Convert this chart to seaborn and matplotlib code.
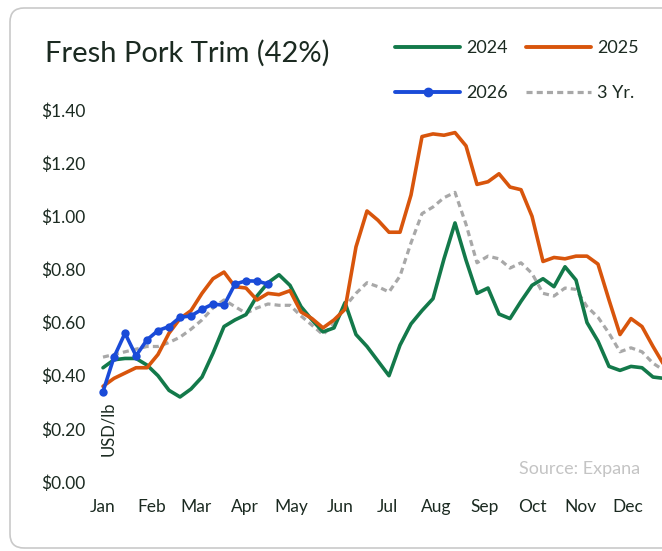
import numpy as np
import pandas as pd
import matplotlib
matplotlib.use("Agg")
import matplotlib.pyplot as plt
from matplotlib.patches import FancyBboxPatch
from matplotlib.lines import Line2D
import seaborn as sns

# %% data (USD/lb, weekly)
weeks = np.arange(52)
month_labels = ["Jan", "Feb", "Mar", "Apr", "May", "Jun",
                "Jul", "Aug", "Sep", "Oct", "Nov", "Dec"]
month_start_day = [0, 31, 59, 90, 120, 151, 181, 212, 243, 273, 304, 334]

y2024 = [0.43, 0.46, 0.465, 0.465, 0.44, 0.40, 0.345, 0.32, 0.35, 0.395,
         0.485, 0.585, 0.61, 0.63, 0.70, 0.75, 0.78, 0.74, 0.66, 0.61,
         0.565, 0.58, 0.675, 0.555, 0.51, 0.455, 0.40, 0.515, 0.595, 0.645,
         0.69, 0.84, 0.975, 0.835, 0.71, 0.73, 0.632, 0.615, 0.68, 0.74,
         0.765, 0.735, 0.81, 0.76, 0.60, 0.53, 0.435, 0.42, 0.435, 0.43,
         0.395, 0.39]
y2025 = [0.36, 0.39, 0.41, 0.43, 0.43, 0.48, 0.56, 0.615, 0.645, 0.71,
         0.765, 0.79, 0.735, 0.73, 0.685, 0.71, 0.705, 0.72, 0.64, 0.615,
         0.58, 0.61, 0.65, 0.885, 1.02, 0.985, 0.94, 0.94, 1.08, 1.30,
         1.31, 1.305, 1.315, 1.265, 1.12, 1.13, 1.16, 1.11, 1.10, 1.00,
         0.83, 0.845, 0.84, 0.85, 0.85, 0.82, 0.685, 0.555, 0.615, 0.585,
         0.51, 0.44]
y2026 = [0.34, 0.47, 0.56, 0.475, 0.535, 0.57, 0.585, 0.62, 0.625, 0.65,
         0.67, 0.665, 0.745, 0.757, 0.756, 0.745]
y3yr = [0.47, 0.48, 0.49, 0.50, 0.51, 0.51, 0.525, 0.545, 0.575, 0.61,
        0.655, 0.685, 0.66, 0.635, 0.655, 0.67, 0.665, 0.665, 0.625, 0.59,
        0.555, 0.595, 0.66, 0.71, 0.75, 0.735, 0.715, 0.775, 0.90, 1.01,
        1.035, 1.07, 1.09, 0.97, 0.825, 0.85, 0.84, 0.805, 0.825, 0.785,
        0.71, 0.70, 0.73, 0.725, 0.66, 0.62, 0.56, 0.49, 0.505, 0.49,
        0.447, 0.42]

GREEN = "#13794a"
ORANGE = "#d8550c"
BLUE = "#1a4bd8"
GRAY = "#a8a8a8"
INK = "#1b2a21"

# %% figure
sns.set_theme(style="white")
plt.rcParams["font.family"] = ["Lato", "DejaVu Sans"]

W, H = 662, 551
fig = plt.figure(figsize=(W / 100, H / 100), dpi=100)

# axes placed in pixel terms: week w sits at x = 103 + 11*w, $0 at y=482, $1.40 at y=110
x_left, x_right = 99.0, 662.0
ax = fig.add_axes([x_left / W, (H - 482) / H, (x_right - x_left) / W, (482 - 110) / H])
ax.set_xlim((x_left - 103) / 11, (x_right - 103) / 11)
ax.set_ylim(0, 1.4)

sns.lineplot(x=weeks, y=y3yr, color=GRAY, lw=2.3, linestyle=(0, (1.9, 1.3)), ax=ax)
sns.lineplot(x=weeks, y=y2024, color=GREEN, lw=2.6, ax=ax)
sns.lineplot(x=weeks, y=y2025, color=ORANGE, lw=2.6, ax=ax)
sns.lineplot(x=weeks[:len(y2026)], y=y2026, color=BLUE, lw=2.6, marker="o",
             markersize=6, markeredgewidth=0, ax=ax, clip_on=False)

sns.despine(ax=ax, left=True, bottom=True)
ax.set_yticks(np.arange(0, 1.41, 0.2))
ax.set_yticklabels([f"${v:.2f}" for v in np.arange(0, 1.41, 0.2)])
ax.set_xticks(np.array(month_start_day) / 7)
ax.set_xticklabels(month_labels)
ax.tick_params(axis="both", length=0, labelsize=12.5, labelcolor=INK)
ax.tick_params(axis="y", pad=10)
ax.tick_params(axis="x", pad=12)
ax.set_xlabel("")
ax.set_ylabel("")
ax.grid(False)

ax.text(0.45, 0.2, "USD/lb", rotation=90, ha="center", va="center",
        fontsize=12, color=INK)
ax.text(48.8, 0.05, "Source: Expana", ha="right", va="center",
        fontsize=13, color="#c4c4c4")

# title
fig.text(45 / W, 1 - 53 / H, "Fresh Pork Trim (42%)", fontsize=21,
         color=INK, ha="left", va="center")

# legend
handles = [
    Line2D([], [], color=GREEN, lw=2.8),
    Line2D([], [], color=BLUE, lw=2.8, marker="o", markersize=6),
    Line2D([], [], color=ORANGE, lw=2.8),
    Line2D([], [], color=GRAY, lw=2.3, linestyle=(0, (1.9, 1.3))),
]
labels = ["2024", "2026", "2025", "3 Yr."]
fig.legend(handles, labels, ncol=2, loc="upper left",
           bbox_to_anchor=(395 / W, 1 - 40 / H), frameon=False,
           fontsize=13, labelcolor=INK, handlelength=3.6,
           handletextpad=0.35, columnspacing=1.0, labelspacing=1.6,
           borderpad=0, borderaxespad=0)

# card border
card = FancyBboxPatch((10, 3), 720, 540, boxstyle="round,pad=0,rounding_size=14",
                      transform=None, facecolor="none", edgecolor="#c9c9c9", lw=1.2)
fig.add_artist(card)

fig.savefig("out.png", dpi=100)
